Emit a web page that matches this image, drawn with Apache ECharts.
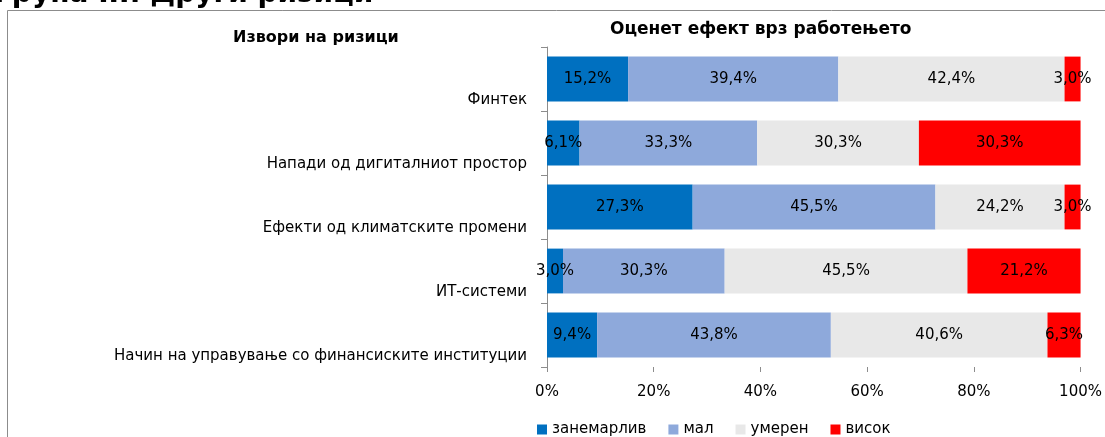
<!DOCTYPE html>
<html>
<head>
<meta charset="utf-8">
<script src="https://cdn.jsdelivr.net/npm/echarts@6/dist/echarts.min.js"></script>
<style>
  html, body { margin: 0; padding: 0; background: #fff; }
  #chart { width: 1105px; height: 437px; }
</style>
</head>
<body>
<div id="chart"></div>
<script>
  // извори на ризици (од горе надолу)
  var categories = [
    'Финтек',
    'Напади од дигиталниот простор',
    'Ефекти од климатските промени',
    'ИТ-системи',
    'Начин на управување со финансиските институции'
  ];
  var seriesNames = ['занемарлив', 'мал', 'умерен', 'висок'];
  var zanemarliv = [15.2, 6.1, 27.3, 3.0, 9.4];
  var mal = [39.4, 33.3, 45.5, 30.3, 43.8];
  var umeren = [42.4, 30.3, 24.2, 45.5, 40.6];
  var visok = [3.0, 30.3, 3.0, 21.2, 6.3];
  var xTicks = [0, 20, 40, 60, 80, 100];

  var colors = ['#0070C0', '#8EA9DB', '#E8E8E8', '#FF0000'];
  var font = 'DejaVu Sans';

  function fmt(v) {
    return v.toFixed(1).replace('.', ',') + '%';
  }

  var myChart = echarts.init(document.getElementById('chart'));
  var seriesData = [zanemarliv, mal, umeren, visok];
  var series = seriesData.map(function (d, i) {
    return {
      name: seriesNames[i],
      type: 'bar',
      stack: 'total',
      barWidth: '70%',
      data: d,
      itemStyle: { color: colors[i] },
      label: {
        show: true,
        position: 'inside',
        color: '#000',
        fontFamily: font,
        fontSize: 15,
        formatter: function (p) { return fmt(p.value); }
      }
    };
  });

  myChart.setOption({
    animation: false,
    textStyle: { fontFamily: font },
    color: colors,
    graphic: [
      {
        type: 'rect',
        shape: { x: 7.5, y: 10.5, width: 1120, height: 450 },
        style: { fill: 'none', stroke: '#8c8c8c', lineWidth: 1 }
      },
      {
        type: 'text',
        left: -6,
        top: -19,
        style: { text: 'Група III: Други ризици', font: 'bold 28px "DejaVu Sans"', fill: '#000' }
      },
      {
        type: 'text',
        left: 233,
        top: 30,
        style: { text: 'Извори на ризици', font: 'bold 16px "DejaVu Sans"', fill: '#000' }
      },
      {
        type: 'text',
        left: 610,
        top: 21,
        style: { text: 'Оценет ефект врз работењето', font: 'bold 17px "DejaVu Sans"', fill: '#000' }
      }
    ],
    legend: {
      top: 417,
      left: 532,
      itemWidth: 10,
      itemHeight: 10,
      itemGap: 22,
      icon: 'rect',
      textStyle: { fontSize: 15, color: '#000', fontFamily: font },
      data: seriesNames
    },
    grid: {
      left: 547,
      right: 24,
      top: 47,
      bottom: 70
    },
    xAxis: {
      type: 'value',
      min: xTicks[0],
      max: xTicks[xTicks.length - 1],
      interval: 20,
      splitLine: { show: false },
      axisLine: { show: false },
      axisTick: { show: true, length: 5, lineStyle: { color: '#8c8c8c' } },
      axisLabel: {
        color: '#000',
        fontSize: 15,
        margin: 18,
        formatter: '{value}%'
      }
    },
    yAxis: {
      type: 'category',
      inverse: true,
      data: categories,
      axisLine: { show: true, lineStyle: { color: '#8c8c8c' } },
      axisTick: { show: true, length: 6, lineStyle: { color: '#8c8c8c' } },
      axisLabel: {
        interval: 0,
        color: '#000',
        fontSize: 15,
        margin: 20,
        lineHeight: 42,
        formatter: function (v) { return '\n' + v; }
      }
    },
    series: series
  });
</script>
</body>
</html>
